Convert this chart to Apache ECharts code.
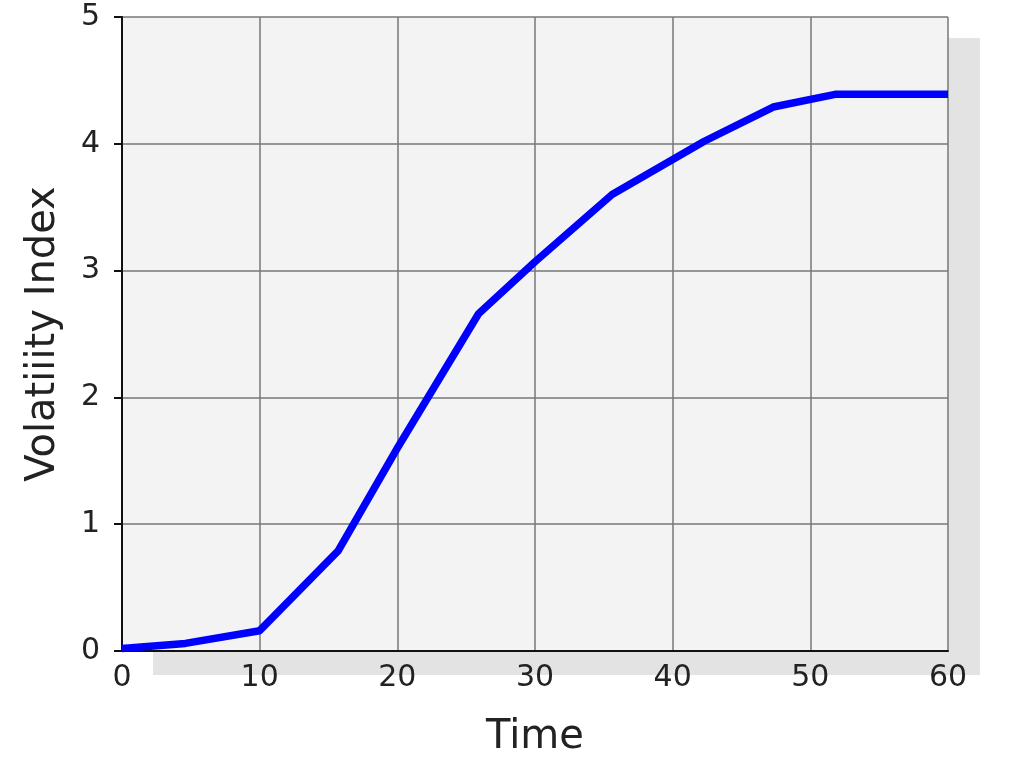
<!DOCTYPE html>
<html><head><meta charset="utf-8">
<script src="https://cdn.jsdelivr.net/npm/echarts@6/dist/echarts.min.js"></script>
<style>html,body{margin:0;padding:0;background:#fff}#c{width:1024px;height:763px}</style>
</head><body><div id="c"></div>
<script>
var times = [0, 4.6, 10, 15.7, 20, 25.9, 30, 35.6, 42.3, 47.3, 51.8, 60];
var volatility = [0.02, 0.06, 0.16, 0.79, 1.6, 2.66, 3.07, 3.6, 4.02, 4.29, 4.39, 4.39];
var xTicks = [0, 10, 20, 30, 40, 50, 60];
var yTicks = [0, 1, 2, 3, 4, 5];

var chart = echarts.init(document.getElementById('c'));
var pts = times.map(function (t, i) { return [t, volatility[i]]; });
chart.setOption({
  animation: false,
  graphic: [{
    type: 'rect', z: -10, silent: true,
    shape: { x: 153, y: 38, width: 827, height: 637 },
    style: { fill: '#e3e3e3' }
  }],
  grid: { left: 122, right: 76, top: 17, bottom: 110, show: true, backgroundColor: '#f3f3f3', borderWidth: 0 },
  xAxis: {
    type: 'value', min: 0, max: 60, interval: 10,
    name: 'Time', nameLocation: 'middle', nameGap: 67,
    nameTextStyle: { fontSize: 40, color: '#222', fontFamily: 'DejaVu Sans' },
    axisLine: { show: true, onZero: false, lineStyle: { color: '#111', width: 2 } },
    axisTick: { show: false },
    axisLabel: { fontSize: 30, color: '#222', fontFamily: 'DejaVu Sans', margin: 12 },
    splitLine: { show: true, lineStyle: { color: '#777', width: 1.5 } }
  },
  yAxis: {
    type: 'value', min: 0, max: 5, interval: 1,
    name: 'Volatiiity Index', nameLocation: 'middle', nameGap: 58, nameRotate: 90,
    nameTextStyle: { fontSize: 40, color: '#222', fontFamily: 'DejaVu Sans' },
    axisLine: { show: true, onZero: false, lineStyle: { color: '#111', width: 2 } },
    axisTick: { show: true, length: 8, lineStyle: { color: '#111', width: 2 } },
    axisLabel: { fontSize: 30, color: '#222', fontFamily: 'DejaVu Sans', margin: 22 },
    splitLine: { show: true, lineStyle: { color: '#777', width: 1.5 } }
  },
  series: [{
    type: 'line', data: pts, showSymbol: false,
    lineStyle: { color: '#0000ff', width: 7.5, join: 'round' }
  }]
});
</script></body></html>
